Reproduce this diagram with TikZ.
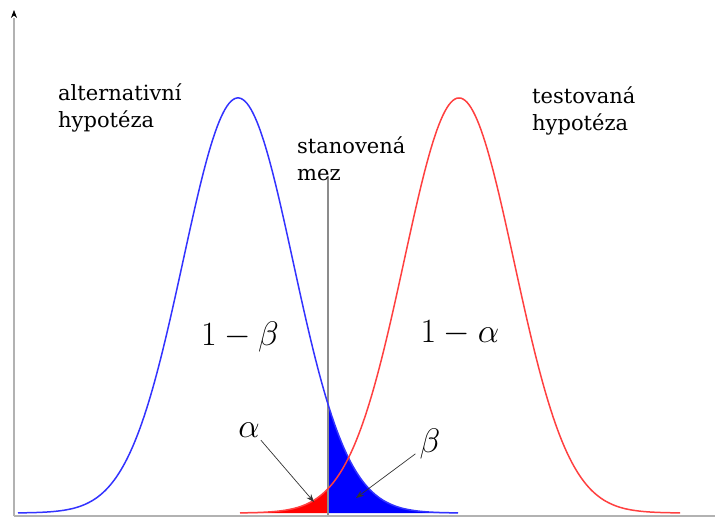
\RequirePackage{fix-cm}
\documentclass[tikz,border=0pt]{standalone}
\usepackage{fontspec}
\setmainfont{DejaVu Serif}
\usetikzlibrary{arrows.meta}
\begin{document}
\begin{tikzpicture}[x=1pt,y=-1pt,
  txt/.style={anchor=north west,inner sep=0pt,align=left,font=\fontsize{21}{27}\selectfont},
  mth/.style={anchor=base,inner sep=0pt,font=\fontsize{34}{34}\selectfont},
  axis/.style={draw=black!30,line width=1.4pt},
  pointer/.style={draw=black!80,line width=0.7pt,-{Stealth[length=8pt,width=6pt]}}]
\useasboundingbox (0,0) rectangle (715,519);
% fills
\fill[red] (240,513) -- plot[domain=240:328,samples=80] (\x,{513-415*exp(-((\x-459)/55)^2/2)}) -- (328,513) -- cycle;
\fill[blue] (328,513) -- plot[domain=328:458,samples=100] (\x,{513-415*exp(-((\x-238)/55)^2/2)}) -- (458,513) -- cycle;
% cutoff line
\coordinate (mtop) at (328,176);
\coordinate (mbot) at (328,516);
\draw[black!45,line width=1.2pt] (mtop) -- (mbot);
% curves
\draw[blue!80,line width=1.5pt] plot[domain=18:458,samples=220] (\x,{513-415*exp(-((\x-238)/55)^2/2)});
\draw[red!75,line width=1.5pt] plot[domain=240:680,samples=220] (\x,{513-415*exp(-((\x-459)/55)^2/2)});
% axes
\coordinate (o) at (14,516);
\coordinate (ytop) at (14,10);
\coordinate (xend) at (715,516);
\draw[axis] (o) -- (xend);
\draw[axis] (o) -- (14,18);
\draw[black,line width=0.6pt,-{Stealth[length=8pt,width=6pt]}] (14,16) -- (ytop);
% labels
\node[txt] (alt) at (58,84) {alternativní\\hypotéza};
\node[txt] (test) at (532,87) {testovaná\\hypotéza};
\node[txt] (mez) at (297,137) {stanovená\\mez};
\node[mth] (ob) at (240,345) {$1-\beta$};
\node[mth] (oa) at (460,342) {$1-\alpha$};
\node[mth] (al) at (249,437) {$\alpha$};
\node[mth] (be) at (430,452) {$\beta$};
\coordinate (ta) at (314,502);
\coordinate (tb) at (356,498);
\draw[pointer] ([shift={(1,3)}]al.south east) -- (ta);
\draw[pointer] ([shift={(-4,-5)}]be.south west) -- (tb);
\end{tikzpicture}
\end{document}
